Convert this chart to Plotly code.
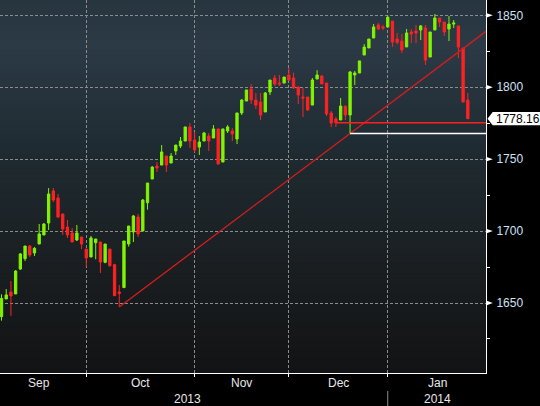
import numpy as np
import plotly.graph_objects as go

# ---------------- data (S&P 500 daily candles, Sep 4 2013 - Jan 27 2014) ----------------
dates = (
    ["2013-09-%02d" % d for d in [4, 5, 6, 9, 10, 11, 12, 13, 16, 17, 18, 19, 20, 23, 24, 25, 26, 27, 30]]
    + ["2013-10-%02d" % d for d in [1, 2, 3, 4, 7, 8, 9, 10, 11, 14, 15, 16, 17, 18, 21, 22, 23, 24, 25, 28, 29, 30, 31]]
    + ["2013-11-%02d" % d for d in [1, 4, 5, 6, 7, 8, 11, 12, 13, 14, 15, 18, 19, 20, 21, 22, 25, 26, 27, 29]]
    + ["2013-12-%02d" % d for d in [2, 3, 4, 5, 6, 9, 10, 11, 12, 13, 16, 17, 18, 19, 20, 23, 24, 26, 27, 30, 31]]
    + ["2014-01-%02d" % d for d in [2, 3, 6, 7, 8, 9, 10, 13, 14, 15, 16, 17, 21, 22, 23, 24, 27]]
)

opens = [
    1640.5, 1652.8, 1657.6, 1656.3, 1673.6, 1680.8, 1689.6, 1684.8, 1691.0, 1697.3,
    1705.6, 1727.9, 1723.0, 1711.9, 1702.8, 1698.7, 1693.8, 1695.9, 1687.5,
    1682.0, 1691.9, 1692.4, 1678.3, 1687.5, 1676.6, 1657.6, 1660.7, 1691.0, 1699.4,
    1709.8, 1700.1, 1719.7, 1736.2, 1745.2, 1745.9, 1752.2, 1747.3, 1755.7, 1759.1,
    1762.6, 1772.4, 1763.3,
    1758.4, 1762.6, 1766.1, 1764.7, 1771.0, 1748.0, 1769.6, 1769.6, 1764.0, 1782.1,
    1790.4, 1798.8, 1791.1, 1789.7, 1782.8, 1796.7, 1806.4, 1802.9, 1802.9, 1808.5,
    1806.4, 1800.2, 1793.2, 1793.2, 1787.6, 1805.7, 1807.8, 1802.9, 1782.1, 1777.9,
    1777.2, 1786.9, 1780.7, 1808.5, 1809.9, 1822.4, 1827.3, 1834.2, 1843.3, 1841.9, 1841.9,
    1846.0, 1833.5, 1832.1, 1828.0, 1838.4, 1839.1, 1839.8, 1841.2, 1821.0, 1839.8,
    1848.1, 1845.3, 1840.5, 1843.9, 1842.6, 1827.3, 1791.1,
]
highs = [
    1656.0, 1659.7, 1665.3, 1672.9, 1684.8, 1689.6, 1690.3, 1688.9, 1704.9, 1705.6,
    1729.9, 1729.9, 1725.8, 1711.9, 1707.7, 1702.1, 1704.2, 1695.9, 1687.5,
    1696.6, 1694.5, 1692.4, 1691.0, 1687.5, 1677.3, 1662.5, 1693.1, 1703.5, 1711.2,
    1711.9, 1722.3, 1733.4, 1745.2, 1748.0, 1759.8, 1752.2, 1754.3, 1759.8, 1765.4,
    1772.4, 1775.1, 1768.9,
    1766.1, 1768.9, 1768.2, 1773.7, 1771.0, 1771.0, 1773.7, 1771.7, 1782.1, 1791.8,
    1798.1, 1802.2, 1796.0, 1796.0, 1796.7, 1805.0, 1808.5, 1808.5, 1807.1, 1813.4,
    1810.1, 1800.2, 1799.5, 1793.2, 1806.4, 1811.9, 1808.5, 1802.9, 1783.5, 1779.3,
    1792.5, 1786.9, 1811.3, 1811.3, 1818.3, 1830.0, 1833.5, 1844.0, 1844.6, 1843.3, 1850.0,
    1846.0, 1837.7, 1837.0, 1840.5, 1840.5, 1843.3, 1843.3, 1843.3, 1838.4, 1850.9,
    1848.1, 1845.3, 1849.5, 1846.7, 1842.6, 1827.3, 1796.0,
]
lows = [
    1637.7, 1652.8, 1641.0, 1656.3, 1673.0, 1679.2, 1682.0, 1682.7, 1691.0, 1697.3,
    1700.8, 1720.2, 1709.1, 1697.3, 1695.2, 1692.4, 1693.1, 1687.5, 1675.0,
    1682.0, 1680.4, 1670.9, 1677.6, 1675.3, 1655.1, 1647.2, 1660.7, 1689.2, 1692.4,
    1695.9, 1700.1, 1714.9, 1736.2, 1741.1, 1745.9, 1741.1, 1747.3, 1752.9, 1757.7,
    1762.6, 1757.8, 1755.0,
    1752.9, 1762.6, 1755.7, 1764.7, 1746.6, 1748.0, 1768.2, 1762.6, 1760.5, 1780.7,
    1790.4, 1788.3, 1784.9, 1777.2, 1782.8, 1794.6, 1800.9, 1800.9, 1802.9, 1804.3,
    1798.8, 1788.3, 1779.3, 1783.5, 1787.6, 1805.7, 1802.3, 1780.0, 1772.3, 1772.3,
    1777.2, 1777.2, 1767.8, 1801.5, 1809.9, 1822.4, 1827.3, 1834.2, 1839.8, 1839.8, 1841.9,
    1828.0, 1829.8, 1823.8, 1828.0, 1830.7, 1830.7, 1832.8, 1815.4, 1821.0, 1839.8,
    1841.9, 1835.6, 1832.1, 1841.2, 1820.3, 1789.7, 1778.16,
]
closes = [
    1653.2, 1655.6, 1654.9, 1672.2, 1684.1, 1689.6, 1683.4, 1688.0, 1698.0, 1704.9,
    1725.8, 1721.6, 1709.8, 1701.4, 1697.3, 1692.4, 1698.7, 1691.0, 1681.3,
    1695.2, 1694.5, 1678.5, 1691.0, 1675.9, 1655.1, 1656.7, 1693.1, 1703.5, 1710.5,
    1698.0, 1721.6, 1733.4, 1744.5, 1743.8, 1755.0, 1745.9, 1752.2, 1759.8, 1762.6,
    1772.4, 1762.6, 1756.4,
    1761.9, 1768.2, 1762.6, 1771.0, 1746.6, 1771.0, 1772.4, 1767.5, 1782.1, 1791.1,
    1798.1, 1791.1, 1787.6, 1780.7, 1796.0, 1805.0, 1802.2, 1802.2, 1807.1, 1805.0,
    1799.5, 1794.6, 1792.5, 1784.2, 1805.0, 1808.5, 1802.3, 1781.4, 1775.1, 1775.3,
    1786.9, 1780.7, 1810.6, 1809.9, 1818.3, 1827.9, 1833.5, 1841.9, 1840.5, 1841.2, 1848.6,
    1831.4, 1831.2, 1825.9, 1837.7, 1837.0, 1837.7, 1842.6, 1818.9, 1838.4, 1848.1,
    1845.3, 1838.4, 1843.9, 1844.6, 1827.9, 1789.7, 1778.16,
]

month_labels = ["Sep", "Oct", "Nov", "Dec", "Jan"]
year_labels = ["2013", "2014"]
month_end_dates = ["2013-09-30", "2013-10-31", "2013-11-29", "2013-12-31"]
y_major = [1650, 1700, 1750, 1800, 1850]
y_minor = [1625, 1675, 1725, 1775, 1825]
last_price = closes[-1]

# trend-line anchors (lows) and support levels
trend_from, trend_to = "2013-10-09", "2013-12-18"
red_level_date = "2013-12-13"     # close level
white_level_date = "2013-12-18"   # low level

# ---------------- layout constants ----------------
W, H = 540, 406
ML, MR, MT, MB = 0, 54, 0, 33
PW, PH = W - ML - MR, H - MT - MB
X_RANGE = [-0.32, 102.86]
Y_RANGE = [1601.34, 1860.64]
GREEN = "#80f400"
RED = "#ff2222"
FONT = "Liberation Sans"

xi = np.arange(len(dates))
idx = {d: i for i, d in enumerate(dates)}
bounds = [idx[d] for d in month_end_dates]
month_pos = [(bounds[0] - 20 + bounds[0]) / 2,
             (bounds[0] + bounds[1]) / 2,
             (bounds[1] + bounds[2]) / 2,
             (bounds[2] + bounds[3]) / 2,
             (bounds[3] + bounds[3] + 21) / 2]
year_pos = [39.4, month_pos[4]]


def py2paper(py):
    return 1 - py / PH


def px2paper(px):
    return px / PW


def val2paper(v):
    return (v - Y_RANGE[0]) / (Y_RANGE[1] - Y_RANGE[0])


fig = go.Figure()

# gradient background bands
stops_px = [0, 45, 150, 260, PH]
stops_rgb = np.array([[0x27, 0x35, 0x3f], [0x2c, 0x3a, 0x46], [0x1f, 0x2b, 0x31],
                      [0x1a, 0x1f, 0x22], [0x12, 0x13, 0x14]], dtype=float)
shapes = []
nb = 75
edges = np.linspace(0, PH, nb + 1)
for k in range(nb):
    mid = (edges[k] + edges[k + 1]) / 2
    rgb = [int(round(np.interp(mid, stops_px, stops_rgb[:, c]))) for c in range(3)]
    shapes.append(dict(type="rect", xref="paper", yref="paper", x0=0, x1=1,
                       y0=py2paper(edges[k + 1]) - 0.001, y1=py2paper(edges[k]) + 0.001,
                       fillcolor="rgb(%d,%d,%d)" % tuple(rgb), line=dict(width=0), layer="below"))

# candles
fig.add_trace(go.Candlestick(
    x=xi, open=opens, high=highs, low=lows, close=closes,
    increasing=dict(line=dict(color=GREEN, width=1), fillcolor=GREEN),
    decreasing=dict(line=dict(color=RED, width=1), fillcolor=RED),
    whiskerwidth=0, showlegend=False, hoverinfo="skip"))

# trend line through two lows, extended right
i0, i1 = idx[trend_from], idx[trend_to]
slope = (lows[i1] - lows[i0]) / (i1 - i0)
x_end = 110
fig.add_trace(go.Scatter(x=[i0, x_end], y=[lows[i0], lows[i0] + slope * (x_end - i0)],
                         mode="lines", line=dict(color="#d81c1c", width=1.3),
                         showlegend=False, hoverinfo="skip"))

# support lines
ir = idx[red_level_date]
fig.add_trace(go.Scatter(x=[ir, x_end], y=[closes[ir]] * 2, mode="lines",
                         line=dict(color="#ff1e1e", width=1.6), showlegend=False, hoverinfo="skip"))
iw = idx[white_level_date]
fig.add_trace(go.Scatter(x=[iw, x_end], y=[lows[iw]] * 2, mode="lines",
                         line=dict(color="#ffffff", width=1.4), showlegend=False, hoverinfo="skip"))

# major tick triangles on right axis
for v in y_major:
    yc = val2paper(v)
    d = 2.4 / PH
    shapes.append(dict(type="path", xref="paper", yref="paper",
                       path="M 1.0,%f L %f,%f L 1.0,%f Z" % (yc - d, px2paper(PW + 6.8), yc, yc + d),
                       fillcolor="white", line=dict(width=0), layer="above"))

# last-price tag
yc = val2paper(last_price)
h = 6.7 / PH
shapes.append(dict(type="path", xref="paper", yref="paper",
                   path="M %f,%f L %f,%f L %f,%f L %f,%f L %f,%f Z" % (
                       px2paper(PW + 1.5), yc,
                       px2paper(PW + 6.7), yc + h,
                       px2paper(W + 5), yc + h,
                       px2paper(W + 5), yc - h,
                       px2paper(PW + 6.7), yc - h),
                   fillcolor="white", line=dict(width=0), layer="above"))

# year separator
shapes.append(dict(type="line", xref="x", yref="paper", x0=bounds[3], x1=bounds[3],
                   y0=py2paper(391), y1=py2paper(406), line=dict(color="#8a8a8a", width=1)))

annotations = []
for lab, pos in zip(month_labels, month_pos):
    annotations.append(dict(x=pos, y=py2paper(383), xref="x", yref="paper", text=lab,
                            showarrow=False, xanchor="center", yanchor="middle",
                            font=dict(family=FONT, size=12, color="#e8e8e8")))
for lab, pos in zip(year_labels, year_pos):
    annotations.append(dict(x=pos, y=py2paper(399), xref="x", yref="paper", text=lab,
                            showarrow=False, xanchor="center", yanchor="middle",
                            font=dict(family=FONT, size=12, color="#e8e8e8")))
annotations.append(dict(x=px2paper(PW + 8.6), y=last_price, xref="paper", yref="y",
                        text="%.2f" % last_price, showarrow=False, xanchor="left",
                        yanchor="middle", borderpad=0,
                        font=dict(family=FONT, size=12, color="#000000")))

fig.update_layout(
    width=W, height=H,
    margin=dict(l=ML, r=MR, t=MT, b=MB, pad=0),
    paper_bgcolor="#000000", plot_bgcolor="#1c2328",
    shapes=shapes, annotations=annotations,
    showlegend=False,
    boxgap=0.3, boxgroupgap=0.3,
    xaxis=dict(range=X_RANGE, rangeslider=dict(visible=False), tickmode="array",
               tickvals=bounds, showticklabels=False, ticks="outside", ticklen=3,
               tickcolor="white", showgrid=True, gridcolor="#8c8c8c", gridwidth=1,
               griddash="3px,2px", showline=True, linecolor="white", linewidth=1,
               zeroline=False, fixedrange=True),
    yaxis=dict(range=Y_RANGE, side="right", tickmode="array", tickvals=y_major,
               ticktext=[str(v) for v in y_major], ticks="outside", ticklen=7,
               tickcolor="rgba(0,0,0,0)", showgrid=True, gridcolor="#8c8c8c", gridwidth=1,
               griddash="3px,2px", showline=True, linecolor="white", linewidth=1,
               zeroline=False,
               tickfont=dict(family=FONT, size=12, color="#cfe2f6"),
               minor=dict(tickmode="array", tickvals=y_minor, ticks="outside", ticklen=3,
                          tickcolor="white", showgrid=False)),
    font=dict(family=FONT, size=12, color="white"),
)

fig.write_html("out.html")
